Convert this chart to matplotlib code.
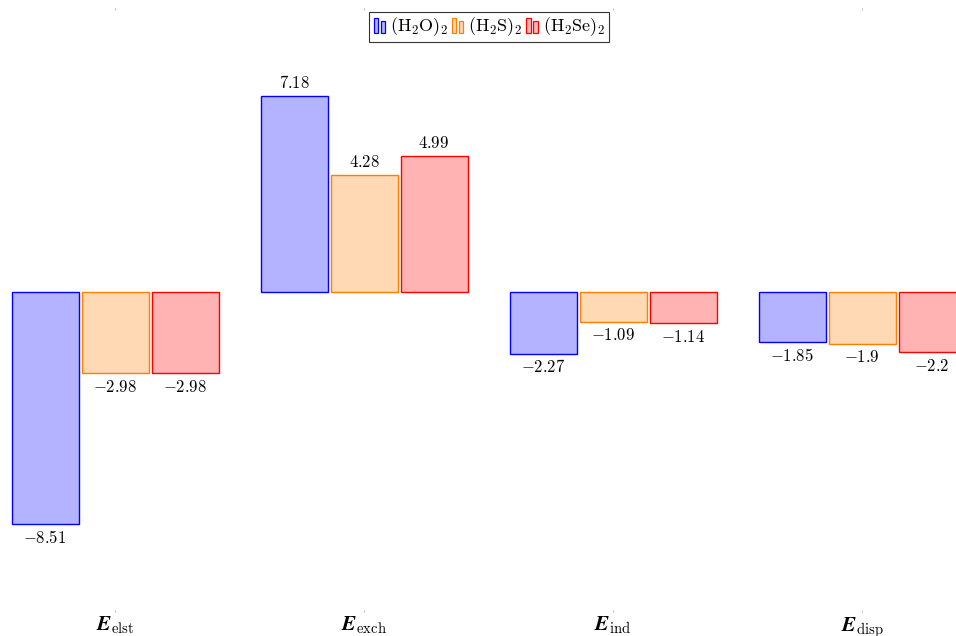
import numpy as np
import matplotlib
matplotlib.use("Agg")
import matplotlib.pyplot as plt
from matplotlib.patches import Rectangle
from matplotlib.legend_handler import HandlerBase

plt.rcParams['mathtext.fontset'] = 'cm'
plt.rcParams['font.family'] = 'serif'
plt.rcParams['font.serif'] = ['DejaVu Serif']

# --- DATA ---
terms = [r'$\mathbfit{E}_{\mathrm{elst}}$', r'$\mathbfit{E}_{\mathrm{exch}}$',
         r'$\mathbfit{E}_{\mathrm{ind}}$', r'$\mathbfit{E}_{\mathrm{disp}}$']
dimers = [r'$(\mathrm{H_2O})_2$', r'$(\mathrm{H_2S})_2$', r'$(\mathrm{H_2Se})_2$']
h2o = [-8.51, 7.18, -2.27, -1.85]
h2s = [-2.98, 4.28, -1.09, -1.9]
h2se = [-2.98, 4.99, -1.14, -2.2]

edge_colors = ['#0000ff', '#ff8000', '#ff0000']
fill_colors = ['#b3b3ff', '#ffd9b3', '#ffb3b3']


class TwoBarHandler(HandlerBase):
    # ybar-style legend image: two small bars side by side
    def create_artists(self, legend, orig_handle, xdescent, ydescent,
                       width, height, fontsize, trans):
        fc = orig_handle.get_facecolor()
        ec = orig_handle.get_edgecolor()
        bw = width * 0.3
        r1 = Rectangle((-xdescent + width * 0.05, -ydescent - 1), bw, height * 1.1,
                       facecolor=fc, edgecolor=ec, lw=0.9, transform=trans)
        r2 = Rectangle((-xdescent + width * 0.55, -ydescent - 1), bw, height * 0.9,
                       facecolor=fc, edgecolor=ec, lw=0.9, transform=trans)
        return [r1, r2]


def main():
    fig = plt.figure(figsize=(9.56, 6.36), dpi=100)
    ax = fig.add_axes([0, 26 / 636, 1, 600 / 636])

    x = np.arange(len(terms))
    step = 70 / 249
    width = 67 / 249
    series = [h2o, h2s, h2se]
    handles = []
    for i, vals in enumerate(series):
        pos = x + (i - 1) * step
        bars = ax.bar(pos, vals, width, facecolor=fill_colors[i],
                      edgecolor=edge_colors[i], linewidth=1.0, label=dimers[i])
        handles.append(bars[0])
        for xp, v in zip(pos, vals):
            txt = f'${v:g}$'
            if v >= 0:
                ax.annotate(txt, (xp, v), xytext=(0, 3), textcoords='offset points',
                            ha='center', va='bottom', fontsize=12)
            else:
                ax.annotate(txt, (xp, v), xytext=(0, -4), textcoords='offset points',
                            ha='center', va='top', fontsize=12)

    ax.set_xlim(-115 / 249, (956 - 115) / 249)
    ax.set_ylim(-318 / 27.27, 282 / 27.27)
    for s in ax.spines.values():
        s.set_visible(False)
    ax.set_yticks([])
    ax.set_xticks(x)
    ax.set_xticklabels(terms, fontsize=15)
    ax.tick_params(axis='x', length=1.5, width=0.5, color='#999999', pad=2,
                   top=True, bottom=True)

    leg = fig.legend(handles, dimers, loc='upper center',
                     bbox_to_anchor=(489 / 956, 1 - 12 / 636),
                     ncol=3, fontsize=13, frameon=True, fancybox=False,
                     edgecolor='black', handler_map={h: TwoBarHandler() for h in handles},
                     handlelength=0.8, handleheight=0.8, handletextpad=0.15,
                     columnspacing=0.15, borderpad=0.2, borderaxespad=0)
    leg.get_frame().set_linewidth(0.8)

    fig.savefig('out.png', dpi=100)


if __name__ == "__main__":
    main()
